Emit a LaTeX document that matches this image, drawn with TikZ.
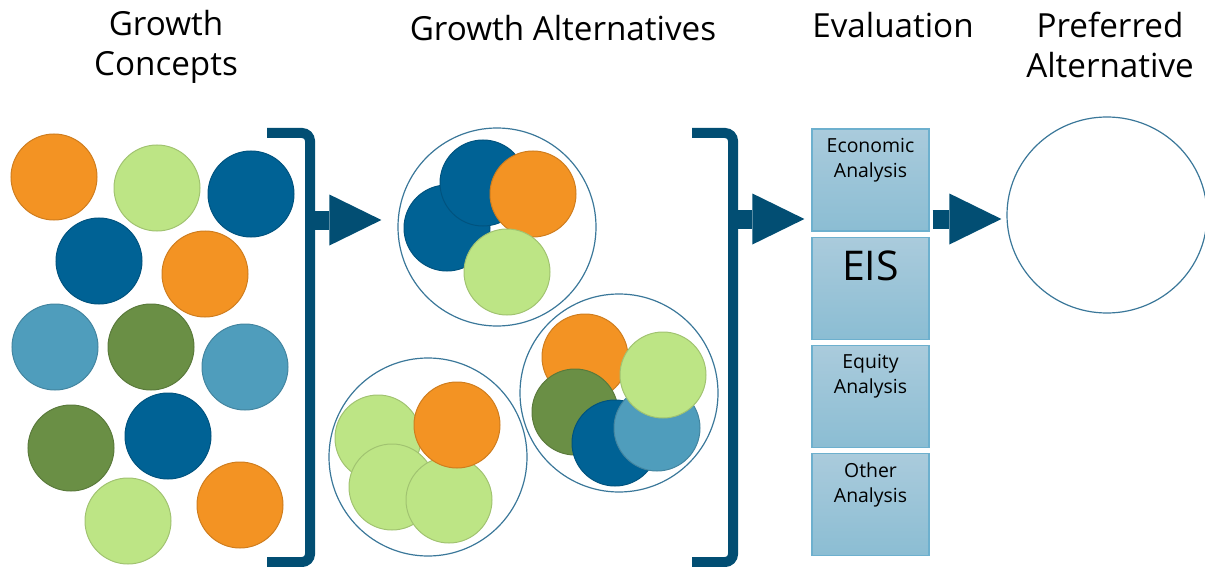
\documentclass[tikz,border=0pt]{standalone}
\usepackage{fontspec}
\setmainfont{Open Sans}
\usepackage{tikz}
\usetikzlibrary{arrows.meta,fit,positioning,shapes.geometric}

\definecolor{corange}{HTML}{F39323}
\definecolor{clime}{HTML}{BDE585}
\definecolor{cnavyball}{HTML}{006295}
\definecolor{csky}{HTML}{4F9DBC}
\definecolor{cmoss}{HTML}{6A8F45}
\definecolor{cnavy}{HTML}{024E73}
\definecolor{cring}{HTML}{3A7799}
\definecolor{ctop}{HTML}{AACBDC}
\definecolor{cbot}{HTML}{8BBDD3}
\definecolor{cedge}{HTML}{6DB0CE}

\begin{document}
\begin{tikzpicture}[x=0.5pt,y=-0.5pt]
	\tikzstyle{concept}=[circle, minimum size=43pt, inner sep=0pt, line width=0.5pt]
	\tikzstyle{pOrange}=[fill=corange, draw=corange!85!black]
	\tikzstyle{pLime}=[fill=clime, draw=clime!85!black]
	\tikzstyle{pNavy}=[fill=cnavyball, draw=cnavyball!85!black]
	\tikzstyle{pSky}=[fill=csky, draw=csky!85!black]
	\tikzstyle{pMoss}=[fill=cmoss, draw=cmoss!85!black]
	\tikzstyle{group}=[circle, minimum size=99pt, inner sep=0pt, draw=cring, line width=0.6pt]
	\tikzstyle{title}=[anchor=north, inner sep=0pt, align=center, font=\fontsize{16.6}{20}\selectfont]
	\tikzstyle{evalbox}=[rectangle, minimum width=58.5pt, minimum height=51pt, draw=cedge, line width=0.6pt, top color=ctop, bottom color=cbot, node distance=2.5pt]
	\tikzstyle{boxtext}=[anchor=north, inner sep=4.5pt, align=center, font=\fontsize{9.7}{12.5}\selectfont]
	\tikzstyle{bracket}=[draw=cnavy, line width=5pt, rounded corners=4pt]
	\tikzstyle{flow}=[draw=cnavy, line width=9.5pt, -{Triangle[length=26pt, width=25.5pt, line width=0pt]}]
	\useasboundingbox (0,0) rectangle (1205,567);
	% titles
	\node[title] (tconcepts) at (166,10) {Growth\\Concepts};
	\node[title] (talts) at (563,15) {Growth Alternatives};
	\node[title] (teval) at (893,12) {Evaluation};
	\node[title] (tpref) at (1110,12) {Preferred\\Alternative};
	% growth concepts
	\node[concept, pOrange] (gc1) at (54,177) {};
	\node[concept, pLime] (gc2) at (157,188) {};
	\node[concept, pNavy] (gc3) at (251,194) {};
	\node[concept, pNavy] (gc4) at (99,261) {};
	\node[concept, pOrange] (gc5) at (205,274) {};
	\node[concept, pSky] (gc6) at (55,347) {};
	\node[concept, pMoss] (gc7) at (151,347) {};
	\node[concept, pSky] (gc8) at (245,367) {};
	\node[concept, pMoss] (gc9) at (71,448) {};
	\node[concept, pNavy] (gc10) at (168,436) {};
	\node[concept, pLime] (gc11) at (128,521) {};
	\node[concept, pOrange] (gc12) at (240,505) {};
	\draw[bracket] (267,133) -- (310,133) -- (310,562) -- (267,562);
	\coordinate (brk1) at (310,220);
	% growth alternatives
	\node[group] (alt1) at (497,227) {};
	\node[concept, pNavy] (a1n1) at (447,228) {};
	\node[concept, pNavy] (a1n2) at (483,183) {};
	\node[concept, pOrange] (a1o) at (533,194) {};
	\node[concept, pLime] (a1l) at (507,272) {};
	\node[group] (alt2) at (428,457) {};
	\node[concept, pLime] (a2l1) at (378,438) {};
	\node[concept, pLime] (a2l2) at (392,487) {};
	\node[concept, pLime] (a2l3) at (449,500) {};
	\node[concept, pOrange] (a2o) at (457,425) {};
	\node[group] (alt3) at (619,393) {};
	\node[concept, pOrange] (a3o) at (585,357) {};
	\node[concept, pMoss] (a3m) at (575,412) {};
	\node[concept, pNavy] (a3n) at (615,443) {};
	\node[concept, pSky] (a3s) at (657,428) {};
	\node[concept, pLime] (a3l) at (663,375) {};
	\draw[bracket] (692,133) -- (733,133) -- (733,562) -- (692,562);
	\coordinate (brk2) at (733,219);
	% evaluation
	\node[evalbox, label={[boxtext]north:Economic\\Analysis}] (econ) at (870.5,180) {};
	\node[evalbox, below=of econ, label={[boxtext, inner sep=7pt, font=\fontsize{20.5}{24}\selectfont]north:EIS}] (eis) {};
	\node[evalbox, below=of eis, label={[boxtext]north:Equity\\Analysis}] (equity) {};
	\node[evalbox, below=of equity, label={[boxtext]north:Other\\Analysis}] (other) {};
	% preferred alternative
	\node[group, ellipse, minimum width=100pt, minimum height=98pt] (pref) at (1107,215) {};
	\draw[flow, shorten >=8pt] (brk1) -- (brk1 -| alt1.west);
	\draw[flow, shorten >=3.5pt] (brk2) -- (brk2 -| econ.west);
	\draw[flow, shorten <=1.5pt, shorten >=2.5pt] (brk2 -| econ.east) -- (brk2 -| pref.west);
\end{tikzpicture}
\end{document}
